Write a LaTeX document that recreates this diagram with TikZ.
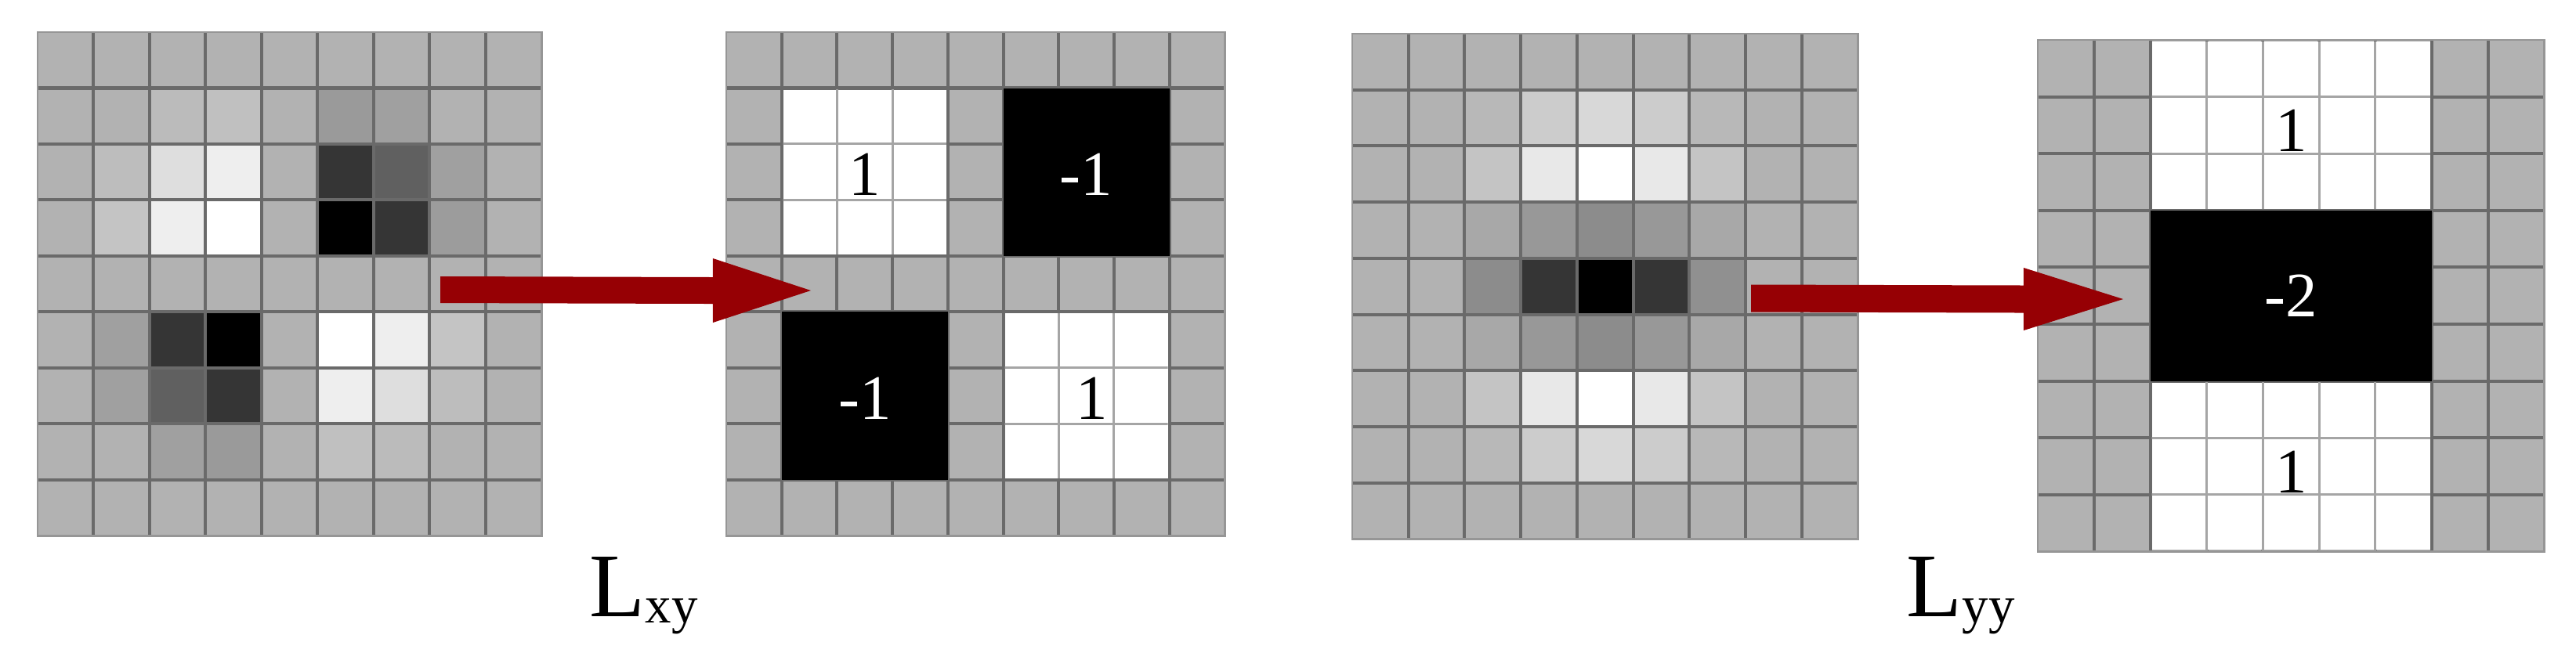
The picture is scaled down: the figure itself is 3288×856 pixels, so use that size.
\documentclass[tikz,border=0pt]{standalone}
\usepackage{fontspec}
\setmainfont{Liberation Serif}
\definecolor{arrowred}{RGB}{150,0,4}
\definecolor{gridline}{RGB}{106,106,106}
\definecolor{softline}{RGB}{165,165,165}
\definecolor{cellgray}{RGB}{178,178,178}
\definecolor{edgegray}{RGB}{150,150,150}
\newcommand\shadedcells[1]{%
  \foreach \rowvals [count=\r from 0] in {#1}{%
    \foreach \v [count=\c from 0] in \rowvals {%
      \definecolor{tmpc}{RGB}{\v,\v,\v}%
      \fill[tmpc] (\c,\r) rectangle ++(1,1);}}}
\newcommand\darklines{%
  \foreach \i in {1,...,8}{%
    \draw[innerline] (\i,0) -- (\i,9);
    \draw[innerline] (0,\i) -- (9,\i);}%
  \draw[edgeline] (0,0) rectangle (9,9);}
\newcommand\whiteblock[4]{%
  \fill[white] ([shift={(0.2mm,-0.2mm)}]#1,#2) rectangle ([shift={(-0.2mm,0.2mm)}]#3,#4);
  \begin{scope}
    \clip ([shift={(0.2mm,-0.2mm)}]#1,#2) rectangle ([shift={(-0.2mm,0.2mm)}]#3,#4);
    \foreach \i in {1,...,8}{%
      \draw[softgrid] (\i,0) -- (\i,9);
      \draw[softgrid] (0,\i) -- (9,\i);}
  \end{scope}}
\newcommand\blackblock[4]{\fill[black] (#1,#2) rectangle (#3,#4);}
\newcommand\blockarrow[5]{%
  \fill[arrowred] ([yshift=#3]#1) -- ([xshift=-#4,yshift=#3]#2) -- ([xshift=-#4,yshift=#5]#2)
    -- (#2) -- ([xshift=-#4,yshift=-#5]#2) -- ([xshift=-#4,yshift=-#3]#2)
    -- ([yshift=-#3]#1) -- cycle;}
\begin{document}
\begin{tikzpicture}[x=0.01cm,y=-0.01cm,
  innerline/.style={draw=gridline,line width=0.4mm},
  softgrid/.style={draw=softline,line width=0.3mm},
  edgeline/.style={draw=edgegray,line width=0.25mm},
  digit/.style={font=\fontsize{23pt}{23pt}\selectfont,inner sep=0pt},
  lbl/.style={font=\fontsize{33pt}{33pt}\selectfont,inner sep=0pt,anchor=base west}]
\useasboundingbox (0,0) rectangle (3288,856);

% ---- grid 1: Dxy approximation
\begin{scope}[shift={(48,41)},x=0.7144cm,y=-0.7144cm]
\shadedcells{{178,178,178,178,178,178,178,178,178},
{178,178,187,192,178,154,160,178,178},
{178,189,222,238,178,53,96,160,178},
{178,196,238,255,178,0,53,156,178},
{178,178,178,178,178,178,178,178,178},
{178,160,53,0,178,255,238,196,178},
{178,160,96,53,178,238,222,189,178},
{178,178,160,154,178,192,187,178,178},
{178,178,178,178,178,178,178,178,178}}
\darklines
\end{scope}

% ---- grid 2: box filter Lxy
\begin{scope}[shift={(927,41)},x=0.7067cm,y=-0.7144cm]
\fill[cellgray] (0,0) rectangle (9,9);
\darklines
\whiteblock{1}{1}{4}{4}
\whiteblock{5}{5}{8}{8}
\blackblock{5}{1}{8}{4}
\blackblock{1}{5}{4}{8}
\node[digit] (g2a) at (2.5,2.55) {1};
\node[digit,text=white] (g2b) at (6.5,2.55) {-1};
\node[digit,text=white] (g2c) at (2.5,6.55) {-1};
\node[digit] (g2d) at (6.6,6.55) {1};
\end{scope}

% ---- grid 3: Dyy approximation
\begin{scope}[shift={(1726,43)},x=0.7167cm,y=-0.7167cm]
\shadedcells{{178,178,178,178,178,178,178,178,178},
{178,178,184,204,216,204,184,178,178},
{178,178,196,232,255,232,196,178,178},
{178,178,168,152,140,152,168,178,178},
{178,178,140,53,0,53,144,178,178},
{178,178,168,152,140,152,168,178,178},
{178,178,196,232,255,232,196,178,178},
{178,178,184,204,216,204,184,178,178},
{178,178,178,178,178,178,178,178,178}}
\darklines
\end{scope}

% ---- grid 4: box filter Lyy
\begin{scope}[shift={(2601,51)},x=0.7178cm,y=-0.7256cm]
\fill[cellgray] (0,0) rectangle (9,9);
\darklines
\whiteblock{2}{0}{7}{3}
\whiteblock{2}{6}{7}{9}
\blackblock{2}{3}{7}{6}
\node[digit] (g4a) at (4.5,1.6) {1};
\node[digit,text=white] (g4b) at (4.5,4.5) {-2};
\node[digit] (g4c) at (4.5,7.6) {1};
\end{scope}

% ---- arrows
\coordinate (a1s) at (562,370);
\coordinate (a1e) at (1035,371);
\coordinate (a2s) at (2235,381);
\coordinate (a2e) at (2710,382);
\blockarrow{a1s}{a1e}{1.7mm}{12.5mm}{4.1mm}
\blockarrow{a2s}{a2e}{1.75mm}{12.7mm}{4.0mm}

% ---- labels
\node[lbl] (lxy) at (752,787) {L\raisebox{-0.8mm}{\fontsize{19pt}{19pt}\selectfont xy}};
\node[lbl] (lyy) at (2433,787) {L\raisebox{-0.8mm}{\fontsize{19pt}{19pt}\selectfont yy}};
\end{tikzpicture}
\end{document}
